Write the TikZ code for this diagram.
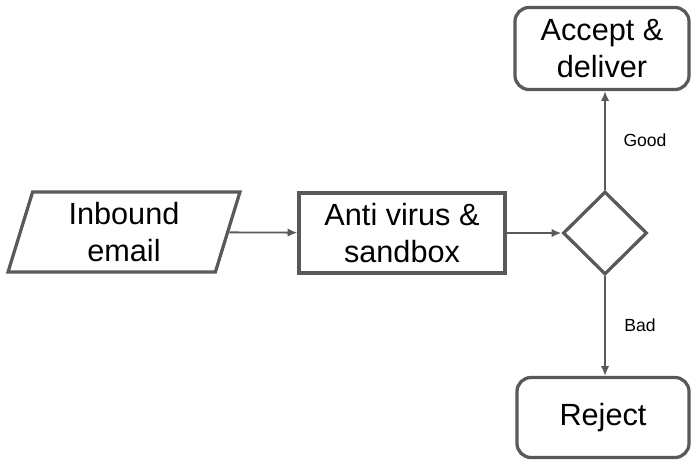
\documentclass[tikz,border=0pt]{standalone}
\usepackage{fontspec}
\setmainfont{Liberation Sans}
\usepackage{tikz}
\usetikzlibrary{shapes.geometric, positioning, arrows.meta}
\definecolor{FlowGray}{RGB}{89,89,89}

\begin{document}
\begin{tikzpicture}[
          x=0.025cm, y=-0.025cm,
          bx/.style={rectangle, draw=FlowGray, line width=2.3pt, align=center,
                     font=\fontsize{21.8}{26.5}\selectfont, inner sep=0pt},
          rbx/.style={bx, rounded corners=10pt},
          io/.style={bx, trapezium, trapezium left angle=76, trapezium right angle=104,
                     trapezium stretches=true},
          dec/.style={diamond, draw=FlowGray, line width=2.3pt, inner sep=0pt,
                      minimum width=2.1cm, minimum height=2.075cm},
          arr/.style={-{Latex[length=7pt, width=6pt]}, draw=FlowGray, line width=1.3pt},
          labl/.style={font=\fontsize{12.5}{15}\selectfont, text=black}
        ]
        \useasboundingbox (0,0) rectangle (691,461);

        \node[io, minimum width=5.8cm, minimum height=2.0cm]
              (inbound) at (124, 232) {Inbound\\email};
        \node[bx, minimum width=5.15cm, minimum height=2.0cm]
              (scan)    at (402, 233) {Anti virus \&\\sandbox};
        \node[dec] (check)  at (605, 233) {};
        \node[rbx, minimum width=4.35cm, minimum height=2.05cm]
              (accept)  at (602, 48.5) {Accept \&\\deliver};
        \node[rbx, minimum width=4.3cm, minimum height=2.0cm]
              (reject)  at (603, 417.5) {Reject};

        \draw[arr] (inbound) -- (scan);
        \draw[arr] (scan)    -- (check);
        \draw[arr] (check.north) -- (check.north |- accept.south);
        \draw[arr] (check.south) -- (check.south |- reject.north);

        \node[labl] (good) at (645, 140) {Good};
        \node[labl] (bad)  at (640, 325) {Bad};
      \end{tikzpicture}
\end{document}
